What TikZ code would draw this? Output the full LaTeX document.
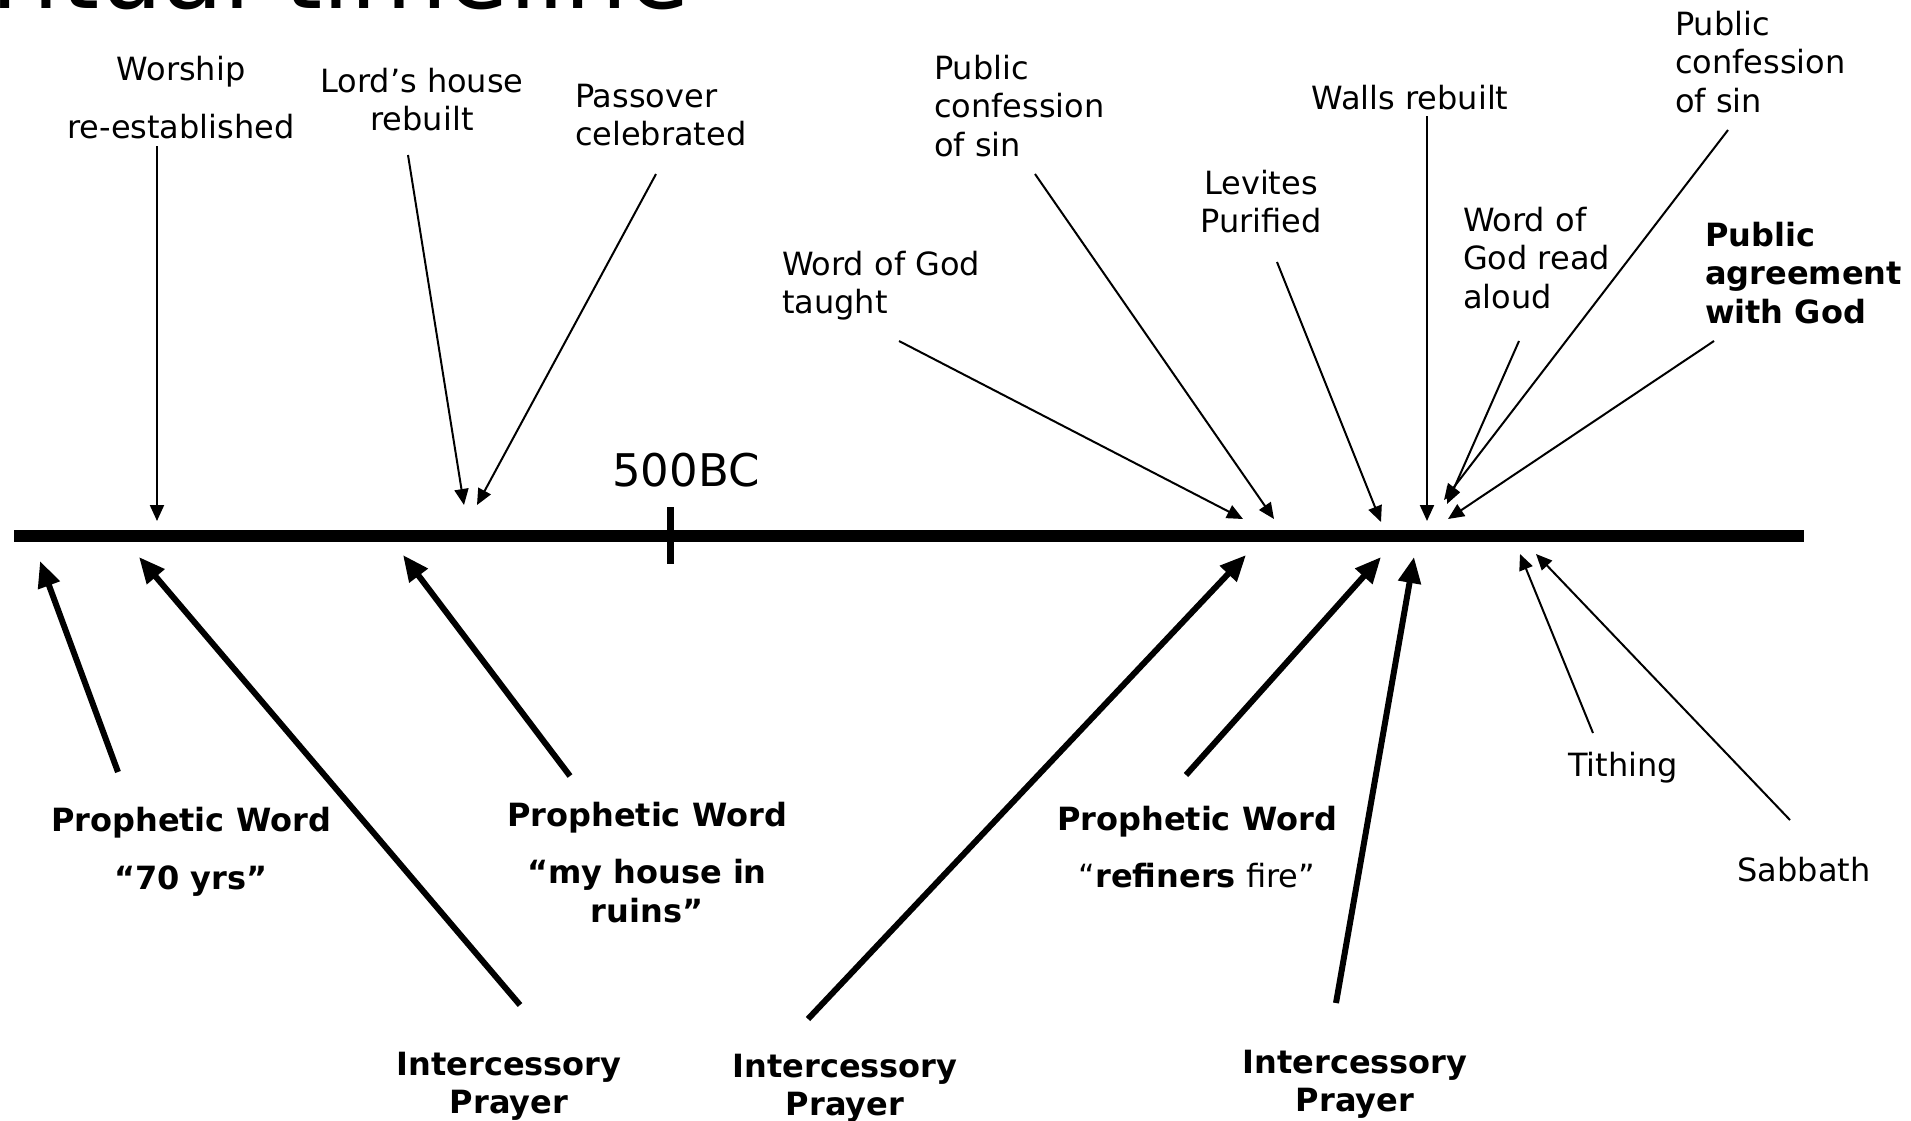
\documentclass[tikz,border=0pt]{standalone}
\usepackage{fontspec}
\setmainfont{DejaVu Sans}
\usetikzlibrary{arrows.meta}
\begin{document}
\begin{tikzpicture}[x=1pt,y=-1pt,
  lbl/.style={font=\fontsize{32}{38.4}\selectfont, inner sep=0pt, outer sep=0pt},
  blbl/.style={lbl, font=\fontsize{32}{38.4}\selectfont\bfseries},
  thinarr/.style={line width=2pt, -{Triangle[length=16pt,width=14pt]}},
  thickarr/.style={line width=6pt, -{Triangle[length=26pt,width=22pt]}}]
\useasboundingbox (0,0) rectangle (1911,1120);
\clip (0,0) rectangle (1911,1120);
\fill[white] (0,0) rectangle (1911,1120);

% cut-off title
\node[anchor=base east, inner sep=0pt, font=\fontsize{100}{120}\selectfont] (title) at (690,8) {Spiritual timeline};

% timeline
\coordinate (tlL) at (14,536);
\coordinate (tlR) at (1804,536);
\draw[line width=12pt] (tlL) -- (tlR);
\coordinate (tickT) at (670,507);
\coordinate (tickB) at (670,564);
\draw[line width=7pt] (tickT) -- (tickB);
\node[anchor=base, inner sep=0pt, font=\fontsize{45}{54}\selectfont] (bc) at (686,486) {500BC};

% top labels
\node[lbl, align=center, anchor=north] (worship) at (181,56) {Worship\\[20pt]re-established};
\node[lbl, align=center, anchor=north] (lord) at (422,68) {Lord’s house\\rebuilt};
\node[lbl, align=left, anchor=north west] (pass) at (575,84) {Passover\\celebrated};
\node[lbl, align=left, anchor=north west] (conf1) at (934,55) {Public\\confession\\of sin};
\node[lbl, align=left, anchor=north west] (taught) at (782,251) {Word of God\\taught};
\node[lbl, align=center, anchor=north] (levites) at (1261,170) {Levites\\Purified};
\node[lbl, align=center, anchor=north] (walls) at (1410,85) {Walls rebuilt};
\node[lbl, align=left, anchor=north west] (aloud) at (1463,207) {Word of\\God read\\aloud};
\node[lbl, align=left, anchor=north west] (conf2) at (1675,11) {Public\\confession\\of sin};
\node[blbl, align=left, anchor=north west] (agree) at (1705,222) {Public\\agreement\\with God};

% bottom labels
\node[blbl, align=center, anchor=north] (pw1) at (191,807) {Prophetic Word\\[20pt]“70 yrs”};
\node[blbl, align=center, anchor=north] (pw2) at (647,802) {Prophetic Word\\[19pt]“my house in\\ruins”};
\node[lbl, align=center, anchor=north] (pw3) at (1197,806) {\textbf{Prophetic Word}\\[19pt]“\textbf{refiners} fire”};
\node[blbl, align=center, anchor=north] (ip1) at (509,1052) {Intercessory\\Prayer};
\node[blbl, align=center, anchor=north] (ip2) at (845,1054) {Intercessory\\Prayer};
\node[blbl, align=center, anchor=north] (ip3) at (1355,1050) {Intercessory\\Prayer};
\node[lbl, anchor=north] (tithe) at (1623,752) {Tithing};
\node[lbl, anchor=north] (sabbath) at (1804,857) {Sabbath};

% arrow start points near labels
\coordinate (sW) at (157,146);
\coordinate (sL) at (408,155);
\coordinate (sP) at (656,174);
\coordinate (sT) at (899,341);
\coordinate (sC1) at (1035,174);
\coordinate (sLv) at (1277,262);
\coordinate (sWa) at (1427,116);
\coordinate (sA) at (1519,341);
\coordinate (sC2) at (1728,130);
\coordinate (sAg) at (1714,341);
\coordinate (sPW1) at (118,772);
\coordinate (sIP1) at (520,1005);
\coordinate (sPW2) at (570,776);
\coordinate (sIP2) at (808,1019);
\coordinate (sPW3) at (1186,775);
\coordinate (sIP3) at (1336,1003);
\coordinate (sTi) at (1593,733);
\coordinate (sSa) at (1790,820);

% arrow tips at the timeline
\coordinate (eW) at (157,521);
\coordinate (eL) at (464,505);
\coordinate (eP) at (477,505);
\coordinate (eT) at (1243,519);
\coordinate (eC1) at (1274,519);
\coordinate (eLv) at (1381,522);
\coordinate (eWa) at (1427,521);
\coordinate (eA) at (1447,504);
\coordinate (eC2) at (1444,500);
\coordinate (eAg) at (1448,519);
\coordinate (ePW1) at (40,561);
\coordinate (eIP1) at (139,557);
\coordinate (ePW2) at (403,555);
\coordinate (eIP2) at (1246,555);
\coordinate (ePW3) at (1381,557);
\coordinate (eIP3) at (1414,557);
\coordinate (eTi) at (1520,554);
\coordinate (eSa) at (1536,554);

% thin arrows
\draw[thinarr] (sW) -- (eW);
\draw[thinarr] (sL) -- (eL);
\draw[thinarr] (sP) -- (eP);
\draw[thinarr] (sT) -- (eT);
\draw[thinarr] (sC1) -- (eC1);
\draw[thinarr] (sLv) -- (eLv);
\draw[thinarr] (sWa) -- (eWa);
\draw[thinarr] (sA) -- (eA);
\draw[thinarr] (sC2) -- (eC2);
\draw[thinarr] (sAg) -- (eAg);
\draw[thinarr] (sTi) -- (eTi);
\draw[thinarr] (sSa) -- (eSa);

% thick arrows
\draw[thickarr] (sPW1) -- (ePW1);
\draw[thickarr] (sIP1) -- (eIP1);
\draw[thickarr] (sPW2) -- (ePW2);
\draw[thickarr] (sIP2) -- (eIP2);
\draw[thickarr] (sPW3) -- (ePW3);
\draw[thickarr] (sIP3) -- (eIP3);
\end{tikzpicture}
\end{document}
